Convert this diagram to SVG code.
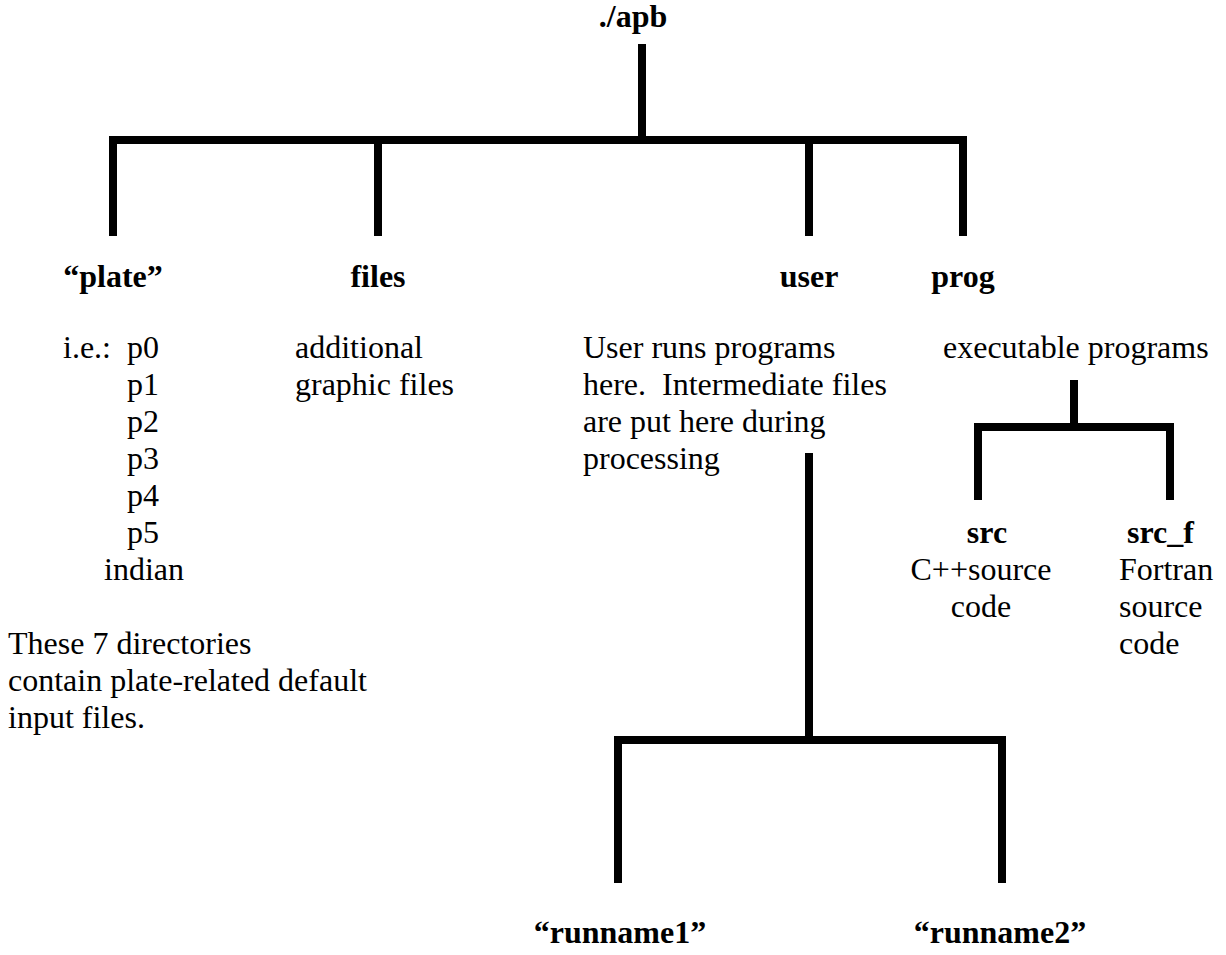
<svg xmlns="http://www.w3.org/2000/svg" width="1226" height="955" viewBox="0 0 1226 955">
<style>
text{font-family:"Liberation Serif","Times New Roman",serif;font-size:32px;fill:#000}
.b{font-weight:bold}
.m{text-anchor:middle}
.c line{stroke:#000;stroke-width:8;stroke-linecap:butt}
</style>
<rect width="1226" height="955" fill="#fff"/>
<g class="c" id="connectors">
<line x1="642" y1="44" x2="642" y2="144"/>
<line x1="109" y1="140" x2="967" y2="140"/>
<line x1="113" y1="136" x2="113" y2="236"/>
<line x1="378" y1="136" x2="378" y2="236"/>
<line x1="809" y1="136" x2="809" y2="236"/>
<line x1="963" y1="136" x2="963" y2="236"/>
<line x1="1074" y1="380" x2="1074" y2="431"/>
<line x1="974" y1="427" x2="1174" y2="427"/>
<line x1="978" y1="423" x2="978" y2="500"/>
<line x1="1170" y1="423" x2="1170" y2="500"/>
<line x1="809" y1="453" x2="809" y2="744"/>
<line x1="614" y1="740" x2="1006" y2="740"/>
<line x1="618" y1="736" x2="618" y2="883"/>
<line x1="1002" y1="736" x2="1002" y2="883"/>
</g>
<g id="apb"><text class="b m" x="633" y="27">./apb</text></g>
<g id="plate">
<text class="b m" x="113" y="287">“plate”</text>
<text x="63" y="358">i.e.:</text>
<text x="127" y="358">p0</text>
<text x="127" y="395">p1</text>
<text x="127" y="432">p2</text>
<text x="127" y="469">p3</text>
<text x="127" y="506">p4</text>
<text x="127" y="543">p5</text>
<text x="104" y="580">indian</text>
<text x="8" y="654">These 7 directories</text>
<text x="8" y="691">contain plate-related default</text>
<text x="8" y="728">input files.</text>
</g>
<g id="files">
<text class="b m" x="378" y="287">files</text>
<text x="295" y="358">additional</text>
<text x="295" y="395">graphic files</text>
</g>
<g id="user">
<text class="b m" x="809" y="287">user</text>
<text x="583" y="358">User runs programs</text>
<text x="583" y="395" xml:space="preserve">here.  Intermediate files</text>
<text x="583" y="432">are put here during</text>
<text x="583" y="469">processing</text>
</g>
<g id="prog">
<text class="b m" x="963" y="287">prog</text>
<text x="943" y="358">executable programs</text>
</g>
<g id="src">
<text class="b m" x="987" y="543">src</text>
<text class="m" x="981" y="580">C++source</text>
<text class="m" x="981" y="617">code</text>
</g>
<g id="src_f">
<text class="b" x="1127" y="543">src_f</text>
<text x="1119" y="580">Fortran</text>
<text x="1119" y="617">source</text>
<text x="1119" y="654">code</text>
</g>
<g id="runname1"><text class="b m" x="620" y="943">“runname1”</text></g>
<g id="runname2"><text class="b m" x="1000" y="943">“runname2”</text></g>
</svg>
